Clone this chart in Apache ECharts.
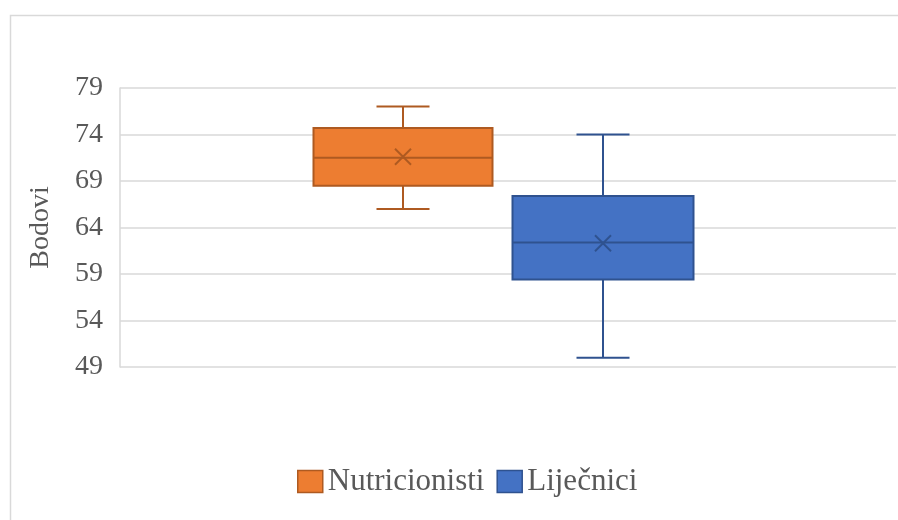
<!DOCTYPE html>
<html><head><meta charset="utf-8">
<script src="https://cdn.jsdelivr.net/npm/echarts@6/dist/echarts.min.js"></script>
<style>html,body{margin:0;padding:0;background:#fff}#c{width:898px;height:520px}</style>
</head><body><div id="c"></div>
<script>
// ---- data ----
const categories = ['Bodovi'];
const seriesNames = ['Nutricionisti', 'Liječnici'];
// [min, Q1, median, Q3, max]
const nutricionistiBox = [66, 68.5, 71.5, 74.7, 77];
const nutricionistiMean = 71.6;
const lijecniciBox = [50, 58.4, 62.4, 67.4, 74];
const lijecniciMean = 62.3;
const yTickLabels = ['49', '54', '59', '64', '69', '74', '79'];
const yMin = 49, yMax = 79;

// ---- styling ----
const FONT = 'Liberation Serif, Times New Roman, serif';
const TXT = '#595959';
const GRID_C = '#d9d9d9';
const colors = [
  { fill: '#ED7D31', stroke: '#AE5A21' },
  { fill: '#4472C4', stroke: '#2F528F' }
];

function boxRenderer(offsetFrac, widthFrac, capFrac, fill, stroke) {
  return function (params, api) {
    const cat = api.value(0);
    const band = api.size([1, 0])[0];
    const cx = api.coord([cat, yMin])[0] + offsetFrac * band;
    const y = i => api.coord([cat, api.value(i)])[1];
    const pMin = y(1), pQ1 = y(2), pMed = y(3), pQ3 = y(4), pMax = y(5), pMean = y(6);
    const hw = widthFrac * band / 2, hc = capFrac * band / 2, m = 8;
    const ls = { stroke: stroke, lineWidth: 2, fill: null };
    return {
      type: 'group',
      children: [
        { type: 'line', shape: { x1: cx, y1: pQ3, x2: cx, y2: pMax }, style: ls },
        { type: 'line', shape: { x1: cx - hc, y1: pMax, x2: cx + hc, y2: pMax }, style: ls },
        { type: 'line', shape: { x1: cx, y1: pQ1, x2: cx, y2: pMin }, style: ls },
        { type: 'line', shape: { x1: cx - hc, y1: pMin, x2: cx + hc, y2: pMin }, style: ls },
        { type: 'rect', shape: { x: cx - hw, y: pQ3, width: 2 * hw, height: pQ1 - pQ3 }, style: { fill: fill, stroke: stroke, lineWidth: 2 } },
        { type: 'line', shape: { x1: cx - hw, y1: pMed, x2: cx + hw, y2: pMed }, style: ls },
        { type: 'line', shape: { x1: cx - m, y1: pMean - m, x2: cx + m, y2: pMean + m }, style: ls },
        { type: 'line', shape: { x1: cx - m, y1: pMean + m, x2: cx + m, y2: pMean - m }, style: ls }
      ]
    };
  };
}

const chart = echarts.init(document.getElementById('c'), null, { renderer: 'canvas' });
chart.setOption({
  animation: false,
  backgroundColor: '#fff',
  textStyle: { fontFamily: FONT },
  graphic: [{
    type: 'rect', left: 8, top: 13, silent: true, z: -10,
    shape: { width: 900, height: 520 },
    style: { fill: null, stroke: GRID_C, lineWidth: 1.5 }
  }],
  grid: { left: 120, right: 2, top: 88, bottom: 153 },
  legend: {
    left: 297, top: 466, padding: 0,
    icon: 'rect', itemWidth: 25, itemHeight: 22, itemGap: 12,
    textStyle: { fontFamily: FONT, fontSize: 31, color: TXT },
    data: seriesNames.map((n, i) => ({ name: n, itemStyle: { color: colors[i].fill, borderColor: colors[i].stroke, borderWidth: 1.5 } }))
  },
  xAxis: {
    type: 'category', data: categories,
    axisLine: { show: false }, axisTick: { show: false }, axisLabel: { show: false }, splitLine: { show: false }
  },
  yAxis: [{
    type: 'value', min: yMin, max: yMax, show: false
  }, {
    type: 'category', data: yTickLabels, boundaryGap: false, position: 'left',
    name: 'Bodovi', nameLocation: 'middle', nameRotate: 90, nameGap: 65,
    nameTextStyle: { fontFamily: FONT, fontSize: 28, color: TXT },
    axisLine: { show: true, lineStyle: { color: GRID_C, width: 1.5 } },
    axisTick: { show: false },
    axisLabel: { fontFamily: FONT, fontSize: 28, color: TXT, margin: 17, interval: 0 },
    splitLine: { show: true, interval: 0, lineStyle: { color: GRID_C, width: 1.5 } }
  }],
  series: [{
    name: seriesNames[0], type: 'custom', yAxisIndex: 0,
    itemStyle: { color: colors[0].fill, borderColor: colors[0].stroke },
    encode: { x: 0, y: [1, 2, 3, 4, 5, 6] },
    data: [[0].concat(nutricionistiBox, [nutricionistiMean])],
    renderItem: boxRenderer(-105 / 776, 179 / 776, 53 / 776, colors[0].fill, colors[0].stroke)
  }, {
    name: seriesNames[1], type: 'custom', yAxisIndex: 0,
    itemStyle: { color: colors[1].fill, borderColor: colors[1].stroke },
    encode: { x: 0, y: [1, 2, 3, 4, 5, 6] },
    data: [[0].concat(lijecniciBox, [lijecniciMean])],
    renderItem: boxRenderer(95 / 776, 181 / 776, 53 / 776, colors[1].fill, colors[1].stroke)
  }]
});
</script>
</body></html>
